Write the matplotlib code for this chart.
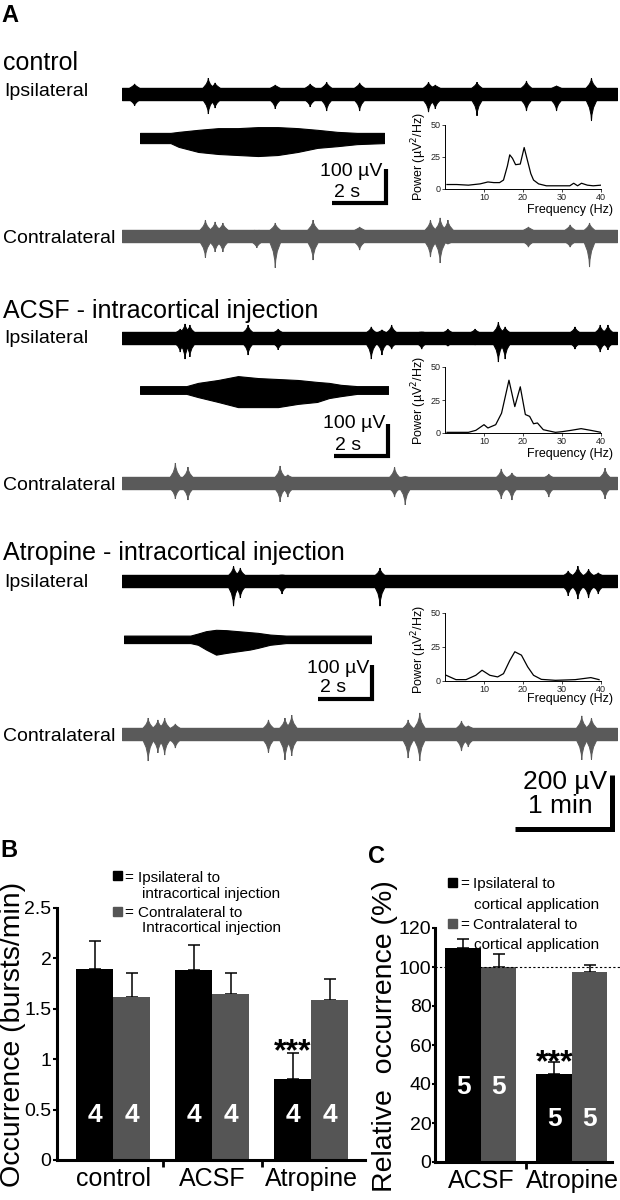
import matplotlib
matplotlib.use("Agg")
import matplotlib.pyplot as plt
from matplotlib.patches import Rectangle
import numpy as np

plt.rcParams['font.family'] = ['Liberation Sans', 'DejaVu Sans']

# ---------------- DATA ----------------
# Long recordings (time in min, amplitude in µV): burst times and peak excursions
ctrl_ipsi_t  = [0.13, 0.89, 0.96, 1.58, 1.94, 2.11, 2.45, 3.16, 3.23, 3.66, 4.17, 4.48, 4.84]
ctrl_ipsi_up = [37, 59, 41, 33, 37, 44, 41, 44, 33, 44, 48, 30, 59]
ctrl_ipsi_dn = [44, 74, 52, 55, 48, 63, 63, 67, 55, 81, 63, 63, 100]

ctrl_contra_t  = [0.86, 0.96, 1.04, 1.39, 1.58, 1.97, 2.45, 3.18, 3.28, 3.36, 4.19, 4.62, 4.82]
ctrl_contra_up = [59, 52, 48, 15, 48, 59, 33, 59, 67, 59, 33, 41, 48]
ctrl_contra_dn = [81, 59, 59, 44, 118, 89, 52, 78, 100, 30, 41, 41, 115]

acsf_ipsi_t  = [0.60, 0.65, 0.70, 1.30, 1.61, 2.57, 2.68, 2.78, 3.09, 3.36, 3.64, 3.88, 3.95, 4.67, 4.93, 5.01]
acsf_ipsi_up = [33, 52, 48, 48, 33, 41, 30, 48, 22, 33, 33, 59, 41, 41, 48, 48]
acsf_ipsi_dn = [52, 78, 70, 63, 44, 78, 63, 41, 41, 30, 25, 89, 78, 41, 52, 44]

acsf_contra_t  = [0.55, 0.68, 1.63, 1.71, 2.81, 2.92, 3.91, 4.02, 4.40, 4.98]
acsf_contra_up = [74, 59, 63, 30, 59, 25, 52, 37, 33, 55]
acsf_contra_dn = [59, 63, 70, 52, 52, 81, 59, 63, 52, 59]

atro_ipsi_t  = [1.15, 1.22, 1.65, 2.66, 4.60, 4.70, 4.81, 4.91]
atro_ipsi_up = [55, 48, 22, 48, 37, 55, 44, 30]
atro_ipsi_dn = [93, 63, 48, 93, 55, 67, 63, 48]

atro_contra_t  = [0.27, 0.37, 0.44, 0.55, 1.51, 1.68, 1.75, 2.95, 3.07, 3.50, 3.57, 4.74, 4.84]
atro_contra_up = [59, 52, 59, 37, 52, 59, 70, 52, 78, 48, 30, 67, 59]
atro_contra_dn = [100, 70, 78, 52, 70, 96, 81, 89, 100, 63, 48, 96, 96]

# Expanded spindle envelopes (time in s, amplitude in µV)
ctrl_zoom_t  = [0, 1.13, 1.43, 2.16, 2.90, 3.63, 4.37, 5.10, 5.84, 6.57, 7.31, 8.04, 9.04]
ctrl_zoom_up = [15, 15, 18, 24, 29, 29, 32, 32, 29, 24, 18, 15, 15]
ctrl_zoom_dn = [15, 15, 26, 41, 47, 50, 53, 50, 41, 29, 24, 18, 15]

acsf_zoom_t  = [0, 1.72, 2.15, 2.89, 3.63, 4.37, 5.11, 5.85, 6.56, 7.00, 7.44, 8.04, 9.19]
acsf_zoom_up = [12, 12, 22, 31, 43, 37, 34, 31, 25, 22, 16, 12, 12]
acsf_zoom_dn = [12, 12, 22, 37, 53, 53, 53, 43, 37, 25, 19, 12, 12]

atro_zoom_t  = [0, 2.46, 2.74, 3.04, 3.41, 3.78, 4.22, 4.67, 4.96, 5.41, 6.00, 9.15]
atro_zoom_up = [10, 10, 16, 23, 27, 26, 23, 20, 18, 13, 10, 10]
atro_zoom_dn = [12, 12, 17, 31, 46, 41, 36, 31, 26, 17, 12, 12]

# Power spectra (Hz, µV²/Hz)
ctrl_f = [0.5, 3, 6, 9, 11, 12.5, 14, 15, 16, 16.6, 17.3, 18.1, 19.3, 20.3, 21, 22, 22.7, 24, 26, 28, 30, 32, 33, 34, 35, 36.5, 38, 40]
ctrl_p = [3.5, 3.5, 3, 4, 5.5, 5, 5, 7, 18, 26.7, 24, 19, 19.5, 32.4, 24, 12, 7, 4, 2.5, 2.5, 2.5, 2.5, 4.5, 2.5, 4.5, 3, 2.5, 3]
acsf_f = [0.5, 4, 6, 7.9, 10, 11, 13, 14.5, 16.4, 17.9, 19.3, 20.6, 21.7, 22.7, 23.7, 25.2, 28.3, 30, 32.3, 34.9, 37.4, 40]
acsf_p = [0.5, 0.5, 0.5, 2, 6.3, 3.8, 6.3, 15, 40, 20, 35, 14, 12.6, 7, 7.6, 2.5, 0.5, 1, 2, 3.3, 2, 0.5]
atro_f = [0.3, 2.8, 5.4, 7.9, 9.5, 11.5, 13.5, 15, 16.6, 17.9, 19.6, 21.2, 22.7, 24.7, 28.3, 33.4, 37.4, 39.5]
atro_p = [4.2, 1, 1, 4.2, 7.9, 4.2, 3, 5.4, 15, 21.5, 19, 10.4, 4.2, 1.2, 0.5, 1, 2.5, 1]

# Panel B
b_conditions = ['control', 'ACSF', 'Atropine']
b_ipsi = [1.89, 1.88, 0.80]
b_ipsi_err = [0.28, 0.25, 0.26]
b_contra = [1.62, 1.65, 1.59]
b_contra_err = [0.24, 0.21, 0.21]
b_n = [4, 4, 4]
b_yticks = [0, 0.5, 1, 1.5, 2, 2.5]
b_yticklabels = ['0', '0.5', '1', '1.5', '2', '2.5']

# Panel C
c_conditions = ['ACSF', 'Atropine']
c_ipsi = [109.5, 45.0]
c_ipsi_err = [5.0, 6.5]
c_contra = [100.0, 97.5]
c_contra_err = [6.5, 3.5]
c_n = [5, 5]
c_yticks = [0, 20, 40, 60, 80, 100, 120]

# ---------------- LAYOUT ----------------
W, H = 620, 1200
fig = plt.figure(figsize=(6.2, 12), dpi=100)
ov = fig.add_axes([0, 0, 1, 1])
ov.set_xlim(0, W); ov.set_ylim(H, 0); ov.axis('off')

BLACK = '#000000'
GREY = '#5a5a5a'
BARGREY = '#555555'


def box(l, t, r, b):
    return [l / W, 1 - b / H, (r - l) / W, (b - t) / H]


PX_PER_MIN = 97.0
UV_PER_PX_LONG = 200 / 54
T_LONG = 5.1
X0_LONG = 122


def long_trace(center, base, bt, bu, bd, color):
    half = 45
    ax = fig.add_axes(box(X0_LONG, center - half, X0_LONG + T_LONG * PX_PER_MIN, center + half))
    ax.set_xlim(0, T_LONG)
    ax.set_ylim(-half * UV_PER_PX_LONG, half * UV_PER_PX_LONG)
    ax.axis('off')
    ax.fill_between([0, T_LONG], -base, base, color=color, lw=1.0)
    hw = 0.06
    for t, u, d in zip(bt, bu, bd):
        xs = [t - hw, t - 0.35 * hw, t - 0.08 * hw, t, t + 0.08 * hw, t + 0.35 * hw, t + hw]
        yu = [base * 0.8, base + 0.35 * (u - base), base + 0.7 * (u - base), u,
              base + 0.7 * (u - base), base + 0.35 * (u - base), base * 0.8]
        yd = [-base * 0.8, -(base + 0.35 * (d - base)), -(base + 0.7 * (d - base)), -d,
              -(base + 0.7 * (d - base)), -(base + 0.35 * (d - base)), -base * 0.8]
        ax.fill(xs, yu, color=color, ec=color, lw=0.7)
        ax.fill(xs, yd, color=color, ec=color, lw=0.7)
    return ax


PX_PER_S = 27.0


def zoom_trace(x0, center, tt, up, dn, uv_per_px):
    half = 30
    T = tt[-1]
    ax = fig.add_axes(box(x0, center - half, x0 + T * PX_PER_S, center + half))
    ax.set_xlim(0, T)
    ax.set_ylim(-half * uv_per_px, half * uv_per_px)
    ax.axis('off')
    ax.fill_between(tt, up, [-v for v in dn], color='black', lw=0.8)
    return ax


def spectrum(top, bottom, f, p):
    ax = fig.add_axes(box(445, top, 601, bottom))
    ax.plot(f, p, color='black', lw=0.9)
    ax.set_xlim(0, 40); ax.set_ylim(0, 50)
    ax.set_xticks([10, 20, 30, 40]); ax.set_yticks([0, 25, 50])
    for s in ['top', 'right']:
        ax.spines[s].set_visible(False)
    for s in ['left', 'bottom']:
        ax.spines[s].set_linewidth(0.7)
    ax.tick_params(labelsize=6.5, length=2, width=0.6, pad=1, colors='#222222')
    ax.patch.set_alpha(0)
    return ax


def scalebar(xc, yc, lx, ly, lw):
    ov.plot([xc - lx, xc, xc], [yc, yc, yc - ly], color='black', lw=lw,
            solid_joinstyle='miter', solid_capstyle='butt')


# ---- Panel A ----
ov.text(1, 22, 'A', fontsize=17, fontweight='bold', va='baseline')

titles = [('control', 70), ('ACSF - intracortical injection', 318),
          ('Atropine - intracortical injection', 560)]
for txt, y in titles:
    ov.text(3, y, txt, fontsize=18, va='baseline')

for y in [96, 343, 587]:
    ov.text(4, y, 'Ipsilateral', fontsize=14, va='baseline')
for y in [243, 490, 741]:
    ov.text(3, y, 'Contralateral', fontsize=14, va='baseline')

long_trace(94, 24, ctrl_ipsi_t, ctrl_ipsi_up, ctrl_ipsi_dn, BLACK)
long_trace(236, 24, ctrl_contra_t, ctrl_contra_up, ctrl_contra_dn, GREY)
long_trace(338, 21, acsf_ipsi_t, acsf_ipsi_up, acsf_ipsi_dn, BLACK)
long_trace(483, 21, acsf_contra_t, acsf_contra_up, acsf_contra_dn, GREY)
long_trace(581, 21, atro_ipsi_t, atro_ipsi_up, atro_ipsi_dn, BLACK)
long_trace(734, 23, atro_contra_t, atro_contra_up, atro_contra_dn, GREY)

zoom_uv = [2.94, 3.1, 2.94]
zoom_trace(140, 138, ctrl_zoom_t, ctrl_zoom_up, ctrl_zoom_dn, zoom_uv[0])
zoom_trace(140, 390, acsf_zoom_t, acsf_zoom_up, acsf_zoom_dn, zoom_uv[1])
zoom_trace(124, 639, atro_zoom_t, atro_zoom_up, atro_zoom_dn, zoom_uv[2])

# zoom scale bars (2 s, 100 µV)
for (xc, yc, uv, tx, ty1, sx, ty2) in [(386, 203, zoom_uv[0], 382, 176, 347, 197),
                                        (388, 456, zoom_uv[1], 385, 428, 348, 450),
                                        (372, 699, zoom_uv[2], 369, 673, 333, 692)]:
    scalebar(xc, yc, 2 * PX_PER_S, 100 / uv, 3.0)
    ov.text(tx, ty1, '100 µV', fontsize=14, ha='right', va='baseline')
    ov.text(sx, ty2, '2 s', fontsize=14, ha='center', va='baseline')

# big scale bar (1 min, 200 µV)
scalebar(612, 829, 1 * PX_PER_MIN, 200 / UV_PER_PX_LONG, 3.6)
ov.text(607, 789, '200 µV', fontsize=19, ha='right', va='baseline')
ov.text(560, 813, '1 min', fontsize=19, ha='center', va='baseline')

# spectra
for (top, bot, f, p, ly, fy) in [(125, 189, ctrl_f, ctrl_p, 157, 213),
                                  (367, 433, acsf_f, acsf_p, 401, 457),
                                  (613, 681, atro_f, atro_p, 650, 702)]:
    spectrum(top, bot, f, p)
    ov.text(419, ly, 'Power (µV$^2$/Hz)', fontsize=9, rotation=90, ha='center', va='center')
    ov.text(613, fy, 'Frequency (Hz)', fontsize=9, ha='right', va='baseline')

# ---- Panel B ----
ov.text(0, 857, 'B', fontsize=17, fontweight='bold', va='baseline')
axb = fig.add_axes(box(57, 908, 365, 1160))
xb = np.arange(len(b_conditions))
wb = 0.374
axb.bar(xb - wb / 2, b_ipsi, wb, color=BLACK, zorder=2)
axb.bar(xb + wb / 2, b_contra, wb, color=BARGREY, zorder=2)
axb.errorbar(xb - wb / 2, b_ipsi, yerr=[np.zeros(3), b_ipsi_err], fmt='none', ecolor='black',
             elinewidth=1.1, capsize=4, capthick=1.1, zorder=1)
axb.errorbar(xb + wb / 2, b_contra, yerr=[np.zeros(3), b_contra_err], fmt='none', ecolor='black',
             elinewidth=1.1, capsize=4, capthick=1.1, zorder=1)
axb.set_xlim(-0.566, 2.545); axb.set_ylim(0, 2.5)
axb.set_xticks(xb); axb.set_xticklabels(b_conditions, fontsize=18)
axb.set_xticks([0.5, 1.5], minor=True)
axb.tick_params(axis='x', which='major', length=0, pad=5)
axb.tick_params(axis='x', which='minor', length=5, width=2, direction='out')
axb.set_yticks(b_yticks); axb.set_yticklabels(b_yticklabels, fontsize=14)
axb.tick_params(axis='y', length=3, width=1.5, pad=1)
for s in ['top', 'right']:
    axb.spines[s].set_visible(False)
for s in ['left', 'bottom']:
    axb.spines[s].set_linewidth(2.2)
axb.patch.set_alpha(0)
for i, n in enumerate(b_n):
    axb.text(xb[i] - wb / 2, 0.45, str(n), color='white', fontsize=19, fontweight='bold', ha='center', va='center')
    axb.text(xb[i] + wb / 2, 0.45, str(n), color='white', fontsize=19, fontweight='bold', ha='center', va='center')
axb.text(xb[2] - wb / 2, 0.99, '***', fontsize=23, fontweight='bold', ha='center', va='baseline')
ov.text(13, 1034, 'Occurrence (bursts/min)', fontsize=20.5, rotation=90, ha='center', va='center')

# legend B
ov.add_patch(Rectangle((113, 871), 9, 9, color=BLACK))
ov.add_patch(Rectangle((113, 907), 9, 9, color=BARGREY))
ov.text(124, 882, '=', fontsize=11, va='baseline')
ov.text(138, 882, 'Ipsilateral to', fontsize=11, va='baseline')
ov.text(142, 898, 'intracortical injection', fontsize=11, va='baseline')
ov.text(124, 917, '=', fontsize=11, va='baseline')
ov.text(138, 917, 'Contralateral to', fontsize=11, va='baseline')
ov.text(142, 932, 'Intracortical injection', fontsize=11, va='baseline')

# ---- Panel C ----
ov.text(368, 863, 'C', fontsize=17, fontweight='bold', va='baseline')
axc = fig.add_axes(box(435, 928, 612, 1162))
xc = np.arange(len(c_conditions))
wc = 0.39
axc.bar(xc - wc / 2, c_ipsi, wc, color=BLACK, zorder=2)
axc.bar(xc + wc / 2, c_contra, wc, color=BARGREY, zorder=2)
axc.errorbar(xc - wc / 2, c_ipsi, yerr=[np.zeros(2), c_ipsi_err], fmt='none', ecolor='black',
             elinewidth=1.1, capsize=4, capthick=1.1, zorder=1)
axc.errorbar(xc + wc / 2, c_contra, yerr=[np.zeros(2), c_contra_err], fmt='none', ecolor='black',
             elinewidth=1.1, capsize=4, capthick=1.1, zorder=1)
axc.set_xlim(-0.505, 1.44); axc.set_ylim(0, 120)
axc.plot([-0.505, 1.53], [100, 100], ls=(0, (2, 2)), color='black', lw=0.8, clip_on=False, zorder=3)
axc.set_xticks(xc); axc.set_xticklabels(c_conditions, fontsize=18)
axc.set_xticks([0.5], minor=True)
axc.tick_params(axis='x', which='major', length=0, pad=5)
axc.tick_params(axis='x', which='minor', length=5, width=2, direction='out')
axc.set_yticks(c_yticks); axc.set_yticklabels([str(v) for v in c_yticks], fontsize=14)
axc.tick_params(axis='y', length=2, width=1.5, pad=0.5)
for s in ['top', 'right']:
    axc.spines[s].set_visible(False)
for s in ['left', 'bottom']:
    axc.spines[s].set_linewidth(2.2)
axc.patch.set_alpha(0)
c_n_y = [38.5, 22]
for i, n in enumerate(c_n):
    axc.text(xc[i] - wc / 2, c_n_y[i], str(n), color='white', fontsize=19, fontweight='bold', ha='center', va='center')
    axc.text(xc[i] + wc / 2, c_n_y[i], str(n), color='white', fontsize=19, fontweight='bold', ha='center', va='center')
axc.text(xc[1] - wc / 2, 46.5, '***', fontsize=23, fontweight='bold', ha='center', va='baseline')
ov.text(385, 1036, 'Relative  occurrence (%)', fontsize=20.5, rotation=90, ha='center', va='center')

# legend C
ov.add_patch(Rectangle((448, 878), 9, 9, color=BLACK))
ov.add_patch(Rectangle((448, 919), 9, 9, color=BARGREY))
ov.text(460, 888, '=', fontsize=11, va='baseline')
ov.text(473, 888, 'Ipsilateral to', fontsize=11, va='baseline')
ov.text(474, 909, 'cortical application', fontsize=11, va='baseline')
ov.text(460, 929, '=', fontsize=11, va='baseline')
ov.text(473, 929, 'Contralateral to', fontsize=11, va='baseline')
ov.text(474, 949, 'cortical application', fontsize=11, va='baseline')

fig.savefig('out.png', dpi=100)
